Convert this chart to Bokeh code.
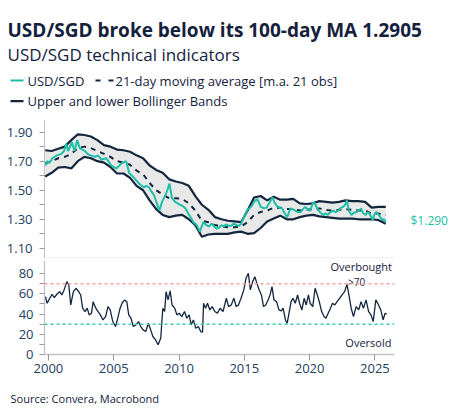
from bokeh.plotting import figure
from bokeh.layouts import column
from bokeh.models import Range1d, FixedTicker, Span, LinearAxis, CustomJSTickFormatter
from bokeh.embed import file_html
from bokeh.resources import INLINE
from bokeh.core.properties import value

# ---------------- data ----------------
price_years = [1999.8, 1999.9, 2000.1, 2000.3, 2000.65, 2001.0, 2001.2, 2001.36, 2001.5, 2001.8,
               2002.0, 2002.2, 2002.4, 2002.6, 2002.8, 2003.0, 2003.2, 2003.55, 2003.8, 2004.05,
               2004.4, 2004.6, 2004.8, 2005.0, 2005.2, 2005.6, 2005.95, 2006.2, 2006.4, 2006.6,
               2006.95, 2007.3, 2007.5, 2007.7, 2007.9, 2008.1, 2008.3, 2008.5, 2008.7, 2008.96,
               2009.1, 2009.27, 2009.46, 2009.7, 2009.9, 2010.1, 2010.3, 2010.5, 2010.7, 2010.85,
               2011.1, 2011.35, 2011.6, 2011.86, 2012.1, 2012.3, 2012.5, 2012.7, 2012.9, 2013.1,
               2013.25, 2013.45, 2013.6, 2013.8, 2014.0, 2014.2, 2014.4, 2014.6, 2014.75, 2014.95,
               2015.1, 2015.25, 2015.4, 2015.55, 2015.75, 2016.0, 2016.26, 2016.5, 2016.7, 2016.9,
               2017.15, 2017.35, 2017.5, 2017.7, 2017.9, 2018.1, 2018.28, 2018.53, 2018.7, 2018.9,
               2019.1, 2019.3, 2019.5, 2019.66, 2019.85, 2020.04, 2020.2, 2020.34, 2020.5, 2020.67,
               2020.85, 2021.05, 2021.2, 2021.4, 2021.6, 2021.8, 2022.0, 2022.2, 2022.4, 2022.56,
               2022.72, 2022.86, 2023.0, 2023.2, 2023.4, 2023.56, 2023.75, 2023.94, 2024.1, 2024.3,
               2024.45, 2024.57, 2024.7, 2024.83, 2024.95, 2025.08, 2025.2, 2025.3, 2025.45, 2025.58,
               2025.7, 2025.83]
usdsgd = [1.67, 1.70, 1.69, 1.72, 1.74, 1.75, 1.77, 1.82, 1.77, 1.83,
          1.77, 1.845, 1.79, 1.78, 1.77, 1.75, 1.74, 1.73, 1.74, 1.71,
          1.72, 1.70, 1.67, 1.66, 1.65, 1.685, 1.70, 1.615, 1.60, 1.58,
          1.545, 1.52, 1.53, 1.52, 1.49, 1.465, 1.41, 1.36, 1.42, 1.465,
          1.50, 1.545, 1.445, 1.42, 1.41, 1.40, 1.39, 1.375, 1.34, 1.32,
          1.28, 1.26, 1.215, 1.28, 1.26, 1.25, 1.27, 1.25, 1.235, 1.245,
          1.26, 1.25, 1.265, 1.255, 1.255, 1.27, 1.26, 1.255, 1.27, 1.31,
          1.34, 1.37, 1.375, 1.39, 1.42, 1.44, 1.385, 1.375, 1.38, 1.41,
          1.45, 1.41, 1.39, 1.38, 1.375, 1.34, 1.315, 1.375, 1.37, 1.36,
          1.35, 1.35, 1.37, 1.385, 1.37, 1.36, 1.40, 1.42, 1.39, 1.36,
          1.345, 1.33, 1.34, 1.33, 1.35, 1.36, 1.35, 1.36, 1.38, 1.385,
          1.40, 1.43, 1.36, 1.33, 1.345, 1.35, 1.36, 1.375, 1.34, 1.33,
          1.35, 1.34, 1.32, 1.295, 1.33, 1.35, 1.34, 1.33, 1.31, 1.295,
          1.30, 1.28]

band_years = [1999.75, 2000.25, 2000.75, 2001.25, 2001.75, 2002.25, 2002.75, 2003.25, 2003.75, 2004.25,
              2004.75, 2005.25, 2005.75, 2006.25, 2006.75, 2007.25, 2007.75, 2008.25, 2008.75, 2009.25,
              2009.75, 2010.25, 2010.75, 2011.25, 2011.75, 2012.25, 2012.75, 2013.25, 2013.75, 2014.25,
              2014.75, 2015.25, 2015.75, 2016.25, 2016.75, 2017.25, 2017.75, 2018.25, 2018.75, 2019.25,
              2019.75, 2020.25, 2020.75, 2021.25, 2021.75, 2022.25, 2022.75, 2023.25, 2023.75, 2024.25,
              2024.75, 2025.25, 2025.83]
upper_band = [1.775, 1.77, 1.785, 1.80, 1.845, 1.885, 1.88, 1.87, 1.845, 1.81,
              1.80, 1.78, 1.775, 1.765, 1.74, 1.72, 1.67, 1.64, 1.62, 1.575,
              1.56, 1.55, 1.53, 1.46, 1.40, 1.365, 1.315, 1.30, 1.29, 1.285,
              1.28, 1.36, 1.45, 1.46, 1.43, 1.455, 1.435, 1.435, 1.44, 1.41,
              1.405, 1.41, 1.425, 1.42, 1.415, 1.42, 1.43, 1.425, 1.425, 1.42,
              1.38, 1.385, 1.385]
moving_avg = [1.685, 1.70, 1.72, 1.73, 1.75, 1.79, 1.80, 1.79, 1.77, 1.75,
              1.73, 1.70, 1.69, 1.675, 1.635, 1.61, 1.55, 1.50, 1.47, 1.445,
              1.445, 1.44, 1.41, 1.36, 1.29, 1.28, 1.26, 1.25, 1.245, 1.245,
              1.25, 1.28, 1.33, 1.35, 1.36, 1.38, 1.38, 1.37, 1.37, 1.36,
              1.365, 1.37, 1.375, 1.365, 1.36, 1.365, 1.37, 1.365, 1.36, 1.36,
              1.34, 1.34, 1.33]
lower_band = [1.595, 1.62, 1.655, 1.66, 1.65, 1.70, 1.73, 1.72, 1.70, 1.69,
              1.66, 1.615, 1.615, 1.585, 1.53, 1.50, 1.43, 1.37, 1.33, 1.315,
              1.325, 1.33, 1.30, 1.26, 1.18, 1.195, 1.20, 1.20, 1.20, 1.21,
              1.215, 1.20, 1.205, 1.24, 1.285, 1.305, 1.325, 1.30, 1.30, 1.315,
              1.325, 1.33, 1.32, 1.315, 1.31, 1.305, 1.305, 1.305, 1.30, 1.30,
              1.30, 1.295, 1.27]

rsi_years = [1999.77, 1999.9, 2000.1, 2000.28, 2000.45, 2000.65, 2000.86, 2001.03, 2001.2, 2001.41,
             2001.56, 2001.71, 2001.91, 2002.12, 2002.32, 2002.47, 2002.62, 2002.8, 2002.97, 2003.12,
             2003.3, 2003.42, 2003.63, 2003.8, 2003.98, 2004.18, 2004.38, 2004.56, 2004.73, 2004.93,
             2005.14, 2005.31, 2005.49, 2005.64, 2005.84, 2006.0, 2006.15, 2006.32, 2006.5, 2006.7,
             2006.9, 2007.07, 2007.25, 2007.45, 2007.65, 2007.83, 2008.0, 2008.2, 2008.4, 2008.6,
             2008.76, 2008.9, 2009.01, 2009.16, 2009.32, 2009.47, 2009.67, 2009.84, 2010.02, 2010.22,
             2010.42, 2010.6, 2010.78, 2010.93, 2011.1, 2011.28, 2011.48, 2011.66, 2011.8, 2011.88,
             2012.03, 2012.18, 2012.36, 2012.54, 2012.74, 2012.94, 2013.14, 2013.37, 2013.62, 2013.8,
             2014.0, 2014.2, 2014.38, 2014.55, 2014.75, 2014.96, 2015.13, 2015.31, 2015.46, 2015.64,
             2015.81, 2015.96, 2016.14, 2016.31, 2016.47, 2016.64, 2016.82, 2016.97, 2017.12, 2017.27,
             2017.47, 2017.65, 2017.83, 2017.97, 2018.15, 2018.28, 2018.4, 2018.58, 2018.73, 2018.9,
             2019.08, 2019.23, 2019.41, 2019.58, 2019.74, 2019.91, 2020.04, 2020.24, 2020.42, 2020.59,
             2020.74, 2020.92, 2021.1, 2021.25, 2021.42, 2021.6, 2021.75, 2021.93, 2022.1, 2022.3,
             2022.48, 2022.68, 2022.86, 2023.01, 2023.18, 2023.36, 2023.56, 2023.76, 2023.94, 2024.12,
             2024.32, 2024.52, 2024.7, 2024.87, 2025.07, 2025.28, 2025.45, 2025.63, 2025.78, 2025.9]
rsi = [57.3, 50.7, 55.6, 59.6, 56.3, 59.6, 62.2, 58.9, 63.9, 72.1,
       68.8, 49.0, 62.2, 65.5, 62.2, 58.9, 45.8, 42.5, 45.8, 39.2,
       40.8, 52.3, 45.8, 42.5, 39.2, 34.2, 37.5, 47.4, 44.1, 32.6,
       27.7, 35.9, 45.8, 50.7, 54.0, 52.3, 39.2, 35.9, 27.7, 29.3,
       32.6, 27.7, 24.4, 22.7, 30.9, 24.4, 17.8, 14.5, 9.6, 16.1,
       45.8, 42.5, 62.2, 54.0, 62.9, 49.0, 45.8, 39.2, 40.8, 37.5,
       42.5, 35.9, 39.2, 29.3, 34.2, 26.0, 27.7, 22.7, 22.0, 50.7,
       45.8, 50.7, 44.1, 47.4, 42.5, 40.8, 45.8, 42.5, 55.6, 47.4,
       49.0, 55.6, 47.4, 49.0, 55.6, 63.9, 75.4, 80.3, 63.9, 72.1,
       77.0, 70.4, 63.9, 58.9, 47.4, 49.0, 54.0, 58.9, 67.1, 54.0,
       52.3, 44.1, 43.1, 45.8, 34.2, 30.9, 39.2, 52.3, 55.6, 50.7,
       58.9, 50.7, 44.1, 55.6, 49.0, 58.9, 50.7, 47.4, 65.5, 58.9,
       52.3, 42.5, 37.5, 35.9, 40.8, 45.8, 50.7, 49.0, 52.3, 55.6,
       58.9, 62.2, 69.4, 58.9, 45.8, 37.5, 47.4, 44.1, 52.3, 45.8,
       54.0, 42.5, 39.2, 32.6, 54.0, 49.0, 44.1, 34.2, 40.8, 39.8]

overbought_level = 70
oversold_level = 30
last_price = 1.290
year_ticks = [2000, 2005, 2010, 2015, 2020, 2025]
price_ticks = [1.10, 1.30, 1.50, 1.70, 1.90]
price_minor = [1.20, 1.40, 1.60, 1.80]
rsi_ticks = [0, 20, 40, 60, 80]
rsi_minor = [10, 30, 50, 70]

TITLE = "USD/SGD broke below its 100-day MA 1.2905"
SUBTITLE = "USD/SGD technical indicators"
LEG1 = "USD/SGD"
LEG2 = "21-day moving average [m.a. 21 obs]"
LEG3 = "Upper and lower Bollinger Bands"
SOURCE = "Source: Convera, Macrobond"

# ---------------- styles ----------------
FONT = "Open Sans"
TEAL = "#1DBFA7"
NAVY = "#14263D"
TXT = "#14213D"
TICKTXT = "#22405F"
AXIS = "#C4C4C4"
TICK = "#9A9A9A"
W = 450

def blank(h):
    f = figure(width=W, height=h, x_range=Range1d(0, W), y_range=Range1d(h, 0),
               x_axis_type=None, y_axis_type=None,
               output_backend="svg", toolbar_location=None,
               min_border=0, min_border_left=0, min_border_right=0,
               min_border_top=0, min_border_bottom=0)
    f.grid.visible = False
    f.outline_line_color = None
    return f

def txt(f, x, y, s, size, style="normal", color=TXT, align="left", baseline="middle"):
    f.text(x=[x], y=[y], text=[s], text_font=value(FONT), text_font_style=style,
           text_font_size=size, text_color=color, text_baseline=baseline, text_align=align)

# ---------------- header ----------------
header = blank(112)
txt(header, 7, 29.5, TITLE, "19px", style="bold", baseline="alphabetic")
txt(header, 7, 54, SUBTITLE, "17px", baseline="alphabetic")
header.line([10, 23], [80, 80], line_color=TEAL, line_width=2.2)
txt(header, 27, 80, LEG1, "13px")
header.line([95, 113], [80, 80], line_color=NAVY, line_width=2.2, line_dash="5 8")
txt(header, 115, 80, LEG2, "13px")
header.line([10, 23], [100.7, 100.7], line_color=NAVY, line_width=2.2)
txt(header, 27, 100.7, LEG3, "13px")

# ---------------- price chart ----------------
xr = Range1d(1999.7, 2026.5)
top = figure(width=W, height=146, x_range=xr, y_range=Range1d(1.03, 1.98),
             output_backend="svg", toolbar_location=None,
             min_border_left=44, min_border_right=50, min_border_top=8, min_border_bottom=0)
top.grid.visible = False
top.outline_line_color = None
top.varea(x=band_years, y1=lower_band, y2=upper_band, fill_color="#E8E8E8")
top.line(band_years, upper_band, line_color=NAVY, line_width=2.2)
top.line(band_years, lower_band, line_color=NAVY, line_width=2.2)
top.line(band_years, moving_avg, line_color=NAVY, line_width=2, line_dash="5 5")
top.line(price_years, usdsgd, line_color=TEAL, line_width=2)

top.xaxis.ticker = FixedTicker(ticks=[])
top.xaxis.major_tick_out = 0
top.xaxis.major_tick_in = 0
top.xaxis.minor_tick_out = 0
top.xaxis.major_label_standoff = 0
top.xaxis.axis_line_color = AXIS
top.xaxis.axis_line_width = 1.3

top.yaxis.ticker = FixedTicker(ticks=price_ticks, minor_ticks=price_minor)
top.yaxis.major_tick_out = 5
top.yaxis.major_tick_in = 0
top.yaxis.minor_tick_out = 5
top.yaxis.minor_tick_in = 0
top.yaxis.axis_line_color = AXIS
top.yaxis.major_tick_line_color = TICK
top.yaxis.minor_tick_line_color = TICK
top.yaxis.major_label_standoff = 7
top.yaxis.major_label_text_font = FONT
top.yaxis.major_label_text_font_size = "13px"
top.yaxis.major_label_text_color = TICKTXT
top.yaxis.formatter = CustomJSTickFormatter(code="return tick.toFixed(2);")

# last-value tag on the right side
right = LinearAxis(ticker=FixedTicker(ticks=[last_price]),
                   formatter=CustomJSTickFormatter(code="return '$' + tick.toFixed(3);"))
right.axis_line_color = None
right.major_tick_line_color = None
right.minor_tick_line_color = None
right.major_label_standoff = 10
right.major_label_text_font = FONT
right.major_label_text_font_size = "12px"
right.major_label_text_color = TEAL
top.add_layout(right, "right")

# ---------------- RSI chart ----------------
bot = figure(width=W, height=124, x_range=xr, y_range=Range1d(0, 93),
             output_backend="svg", toolbar_location=None,
             min_border_left=44, min_border_right=50, min_border_top=2, min_border_bottom=28)
bot.grid.visible = False
bot.outline_line_color = None
bot.add_layout(Span(location=overbought_level, dimension="width", line_color="#F4A29B",
                    line_width=1.5, line_dash="3 3"))
bot.add_layout(Span(location=oversold_level, dimension="width", line_color="#3CCDB8",
                    line_width=1.5, line_dash="3 3"))
bot.line(rsi_years, rsi, line_color=NAVY, line_width=1.3)

txt(bot, 2023.95, 87.5, "Overbought", "11px", align="center", baseline="alphabetic")
txt(bot, 2023.6, 72.2, ">70", "10px", align="center", baseline="alphabetic")
txt(bot, 2024.5, 12.2, "Oversold", "11px", align="center", baseline="alphabetic")
txt(bot, 2024.4, -3.8, "<30", "10px", align="center", baseline="alphabetic")

for ax in (bot.xaxis, bot.yaxis):
    ax.axis_line_color = AXIS
    ax.axis_line_width = 1.3
    ax.major_tick_line_color = TICK
    ax.minor_tick_line_color = TICK
    ax.major_tick_in = 0
    ax.minor_tick_in = 0
    ax.major_label_text_font = FONT
    ax.major_label_text_font_size = "13px"
    ax.major_label_text_color = TICKTXT
bot.xaxis.ticker = FixedTicker(ticks=year_ticks)
bot.xaxis.major_tick_out = 6
bot.xaxis.minor_tick_out = 0
bot.xaxis.major_label_standoff = 3
bot.yaxis.ticker = FixedTicker(ticks=rsi_ticks, minor_ticks=rsi_minor)
bot.yaxis.major_tick_out = 5
bot.yaxis.minor_tick_out = 5
bot.yaxis.major_label_standoff = 6

# ---------------- footer ----------------
footer = blank(30)
txt(footer, 10, 16, SOURCE, "11px")

charts = column(top, bot, spacing=0)
layout = column(header, charts, footer, spacing=0)
open("out.html", "w").write(file_html(layout, INLINE))
